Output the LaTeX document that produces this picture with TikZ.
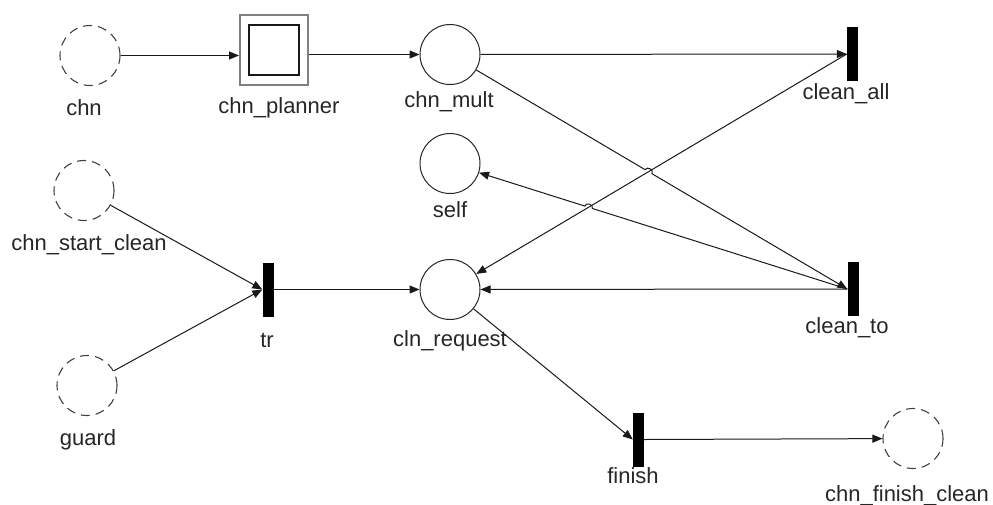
\documentclass[tikz,border=0pt]{standalone}
\usepackage{fontspec}
\setmainfont{Liberation Sans}
\usetikzlibrary{arrows.meta,intersections,calc}
\begin{document}
\begin{tikzpicture}[x=1pt,y=-1pt,
  place/.style={circle, draw=black!85, minimum size=60pt, inner sep=0pt, line width=1pt},
  dplace/.style={place, draw=black!75, line width=1.1pt, dash pattern=on 9pt off 6pt},
  trans/.style={rectangle, fill=black, minimum width=11pt, minimum height=54pt, inner sep=0pt},
  lbl/.style={font=\fontsize{22}{22}\selectfont, anchor=base, text=black!85, inner sep=0pt},
  arc/.style={-{Triangle[length=10pt,width=8pt]}, line width=1pt, draw=black!90}]
\useasboundingbox (0,0) rectangle (993,504);

% places
\node[dplace] (chn) at (90,55.5) {};
\node[place] (mult) at (450,54.5) {};
\node[place] (self) at (450,163.5) {};
\node[place] (req) at (450,289.5) {};
\node[dplace] (start) at (84,190.5) {};
\node[dplace] (guard) at (87,385.5) {};
\node[dplace] (fin) at (913,438.5) {};

% planner
\node[rectangle, draw=black!50, line width=2pt, minimum width=68pt, minimum height=70pt, inner sep=0pt] (planner) at (274,50) {};
\node[rectangle, draw=black!90, line width=1.2pt, minimum width=50pt, minimum height=50pt, inner sep=0pt] (plannerin) at (274,50) {};

% transitions
\node[trans] (all) at (852.5,54) {};
\node[trans] (to) at (853,289) {};
\node[trans] (tr) at (268,289.5) {};
\node[trans] (finish) at (638.5,439.5) {};

% labels
\node[lbl] (lchn) at (84,115) {chn};
\node[lbl] (lplanner) at (279,113) {chn\_planner};
\node[lbl] (lmult) at (449,107) {chn\_mult};
\node[lbl] (lall) at (846,99) {clean\_all};
\node[lbl] (lself) at (450,217) {self};
\node[lbl] (lreq) at (450,346) {cln\_request};
\node[lbl] (lto) at (847,333) {clean\_to};
\node[lbl] (lstart) at (89,250) {chn\_start\_clean};
\node[lbl] (ltr) at (267,347) {tr};
\node[lbl] (lguard) at (88,445) {guard};
\node[lbl] (lfinish) at (633,483) {finish};
\node[lbl] (lfin) at (907,501) {chn\_finish\_clean};

% arcs
\draw[arc] (chn) -- (chn -| planner.west);
\draw[arc] (planner.east |- mult) -- (mult);
\draw[arc] (mult) -- (all.west);
\draw[arc] (start) -- (tr.west);
\draw[arc] (guard) -- (tr.west);
\draw[arc] (tr.east) -- (req);
\draw[arc] (req) -- (finish.west);
\draw[arc] (finish.east) -- (fin);
\draw[arc] (to.west) -- (req);
\draw[arc] (all.west) -- (req);

% crossing arcs with hops
\path[name path=pa] (all.west) -- (req.center);
\path[name path=pb] (mult.center) -- (to.west);
\path[name path=pc] (to.west) -- (self.center);
\path[name intersections={of=pa and pb, by=xa}];
\path[name intersections={of=pa and pc, by=xb}];
\draw[arc] (mult) -- ($(xa)!4pt!(mult)$) to[bend left=90, looseness=1.4] ($(xa)!4pt!(to.west)$) -- (to.west);
\draw[arc] (to.west) -- ($(xb)!4pt!(to.west)$) to[bend right=90, looseness=1.4] ($(xb)!4pt!(self)$) -- (self);
\end{tikzpicture}
\end{document}
